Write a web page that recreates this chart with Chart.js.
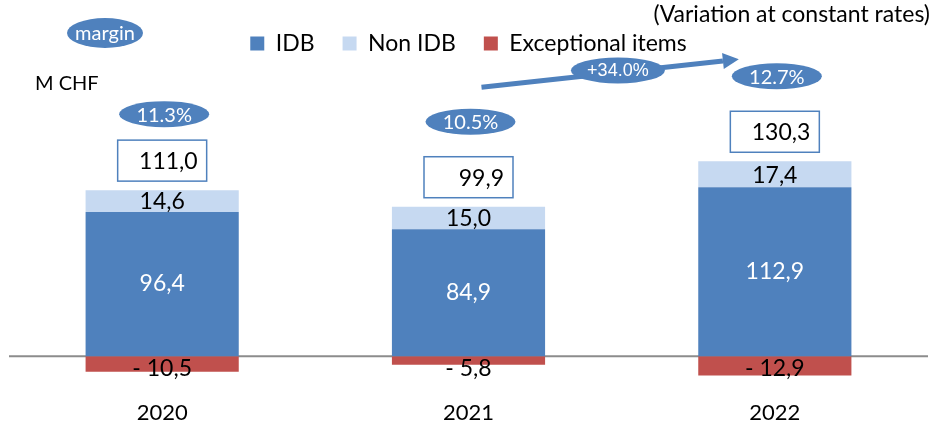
<!DOCTYPE html>
<html>
<head>
<meta charset="utf-8">
<script src="https://cdn.jsdelivr.net/npm/chart.js@4"></script>
<style>
  html, body { margin: 0; padding: 0; background: #fff; }
  #wrap { width: 935px; height: 428px; }
</style>
</head>
<body>
<div id="wrap"><canvas id="myChart"></canvas></div>
<script>
const years = ["2020", "2021", "2022"];
const idb = [96.4, 84.9, 112.9];
const nonIdb = [14.6, 15.0, 17.4];
const exceptional = [-10.5, -5.8, -12.9];
const totals = [111.0, 99.9, 130.3];
const margins = ["11.3%", "10.5%", "12.7%"];
const growth = "+34.0%";

const FONT = "Lato, 'Liberation Sans', sans-serif";
const BLUE = "#4F81BD";

function fmt(v) {
  const s = Math.abs(v).toFixed(1).replace(".", ",");
  return v < 0 ? "- " + s : s;
}

function ellipse(c, x, y, rx, ry, text, font) {
  c.save();
  c.fillStyle = BLUE;
  c.beginPath();
  c.ellipse(x, y, rx, ry, 0, 0, Math.PI * 2);
  c.fill();
  c.fillStyle = "#fff";
  c.font = font;
  c.textAlign = "center";
  c.textBaseline = "middle";
  c.fillText(text, x, y + 1);
  c.restore();
}

// grey zero line behind the bars
const zeroLine = {
  id: "zeroLine",
  beforeDatasetsDraw(chart) {
    const c = chart.ctx, a = chart.chartArea;
    const y = chart.scales.y.getPixelForValue(0);
    c.save();
    c.strokeStyle = "#8c8c8c";
    c.lineWidth = 2;
    c.beginPath();
    c.moveTo(a.left, y);
    c.lineTo(a.right, y);
    c.stroke();
    c.restore();
  }
};

const annotations = {
  id: "annotations",
  afterDatasetsDraw(chart) {
    const c = chart.ctx;
    const xs = chart.scales.x, ys = chart.scales.y;
    const zero = ys.getPixelForValue(0);
    const lift = [26, 35, 35];
    const boxTops = [];

    // value labels inside the bars
    c.save();
    c.font = "23px " + FONT;
    c.textAlign = "center";
    c.textBaseline = "middle";
    years.forEach((yr, i) => {
      const x = xs.getPixelForValue(i);
      const yIdb = ys.getPixelForValue(idb[i]);
      c.fillStyle = "#fff";
      c.fillText(fmt(idb[i]), x, (zero + yIdb) / 2);
      const yTop = ys.getPixelForValue(idb[i] + nonIdb[i]);
      c.fillStyle = "#000";
      c.fillText(fmt(nonIdb[i]), x, (yIdb + yTop) / 2 + 1);
      const yEx = ys.getPixelForValue(exceptional[i]);
      c.fillText(fmt(exceptional[i]), x, Math.max((zero + yEx) / 2, zero + 11) + 1);
    });
    c.restore();

    // total boxes and margin ellipses
    years.forEach((yr, i) => {
      const x = xs.getPixelForValue(i);
      const top = ys.getPixelForValue(totals[i]);
      const w = 89, h = 41;
      const bx = x - w / 2, by = top - 9 - h;
      boxTops.push(by);
      c.save();
      c.fillStyle = "#fff";
      c.fillRect(bx, by, w, h);
      c.strokeStyle = BLUE;
      c.lineWidth = 1.5;
      c.strokeRect(bx, by, w, h);
      c.fillStyle = "#000";
      c.font = "23px " + FONT;
      c.textAlign = "right";
      c.textBaseline = "middle";
      c.fillText(fmt(totals[i]), bx + w - 9, by + h / 2 + 1);
      c.restore();
      ellipse(c, x + 2, by - lift[i], 45, 13, margins[i], "20px " + FONT);
    });

    // growth arrow 2021 -> 2022
    const x1 = xs.getPixelForValue(1) + 13, y1 = boxTops[2] - 24;
    const x2 = xs.getPixelForValue(2) - 36, y2 = boxTops[2] - 52;
    const ang = Math.atan2(y2 - y1, x2 - x1);
    const len = 16, half = 8;
    const bxp = x2 - len * Math.cos(ang), byp = y2 - len * Math.sin(ang);
    c.save();
    c.strokeStyle = BLUE;
    c.fillStyle = BLUE;
    c.lineWidth = 5;
    c.beginPath();
    c.moveTo(x1, y1);
    c.lineTo(bxp, byp);
    c.stroke();
    c.beginPath();
    c.moveTo(x2, y2);
    c.lineTo(bxp + half * Math.sin(ang), byp - half * Math.cos(ang));
    c.lineTo(bxp - half * Math.sin(ang), byp + half * Math.cos(ang));
    c.closePath();
    c.fill();
    c.restore();
    const t = 0.53;
    ellipse(c, x1 + (x2 - x1) * t, y1 + (y2 - y1) * t - 2, 47, 13, growth,
      "18px 'Liberation Sans', Arial, sans-serif");

    // free texts
    const a = chart.chartArea;
    ellipse(c, a.left + 96, 33, 38, 15, "margin", "20px " + FONT);
    c.save();
    c.fillStyle = "#000";
    c.font = "20px " + FONT;
    c.textBaseline = "middle";
    c.textAlign = "left";
    c.fillText("M CHF", 35, 84);
    c.font = "23px " + FONT;
    c.textAlign = "right";
    c.fillText("(Variation at constant rates)", 930, 15);
    c.restore();
  }
};

const ctx = document.getElementById("myChart").getContext("2d");
const myChart = new Chart(ctx, {
  type: "bar",
  data: {
    labels: years,
    datasets: [
      { label: "IDB", data: idb, backgroundColor: BLUE },
      { label: "Non IDB", data: nonIdb, backgroundColor: "#C6D9F1" },
      { label: "Exceptional items", data: exceptional, backgroundColor: "#C0504D" }
    ]
  },
  options: {
    responsive: true,
    maintainAspectRatio: false,
    animation: false,
    events: [],
    layout: { padding: { top: 4, left: 9, right: 7, bottom: 0 } },
    datasets: {
      bar: { categoryPercentage: 1, barPercentage: 0.5, borderWidth: 0 }
    },
    scales: {
      x: {
        stacked: true,
        grid: { display: false, drawTicks: false },
        border: { display: false },
        ticks: { color: "#000", padding: 4, font: { family: FONT, size: 22, lineHeight: 1 } }
      },
      y: {
        stacked: true,
        display: false,
        min: -28,
        max: 194.67
      }
    },
    plugins: {
      legend: {
        position: "top",
        align: "center",
        labels: {
          boxWidth: 14,
          boxHeight: 14,
          padding: 28,
          color: "#000",
          font: { family: FONT, size: 23 }
        }
      },
      tooltip: { enabled: false }
    }
  },
  plugins: [zeroLine, annotations]
});
</script>
</body>
</html>
